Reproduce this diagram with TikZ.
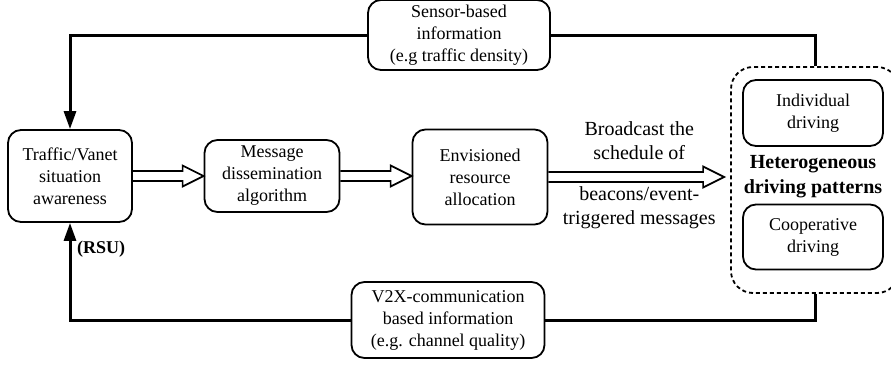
\documentclass[tikz,border=0pt]{standalone}
\usepackage{fontspec}
\setmainfont{Liberation Serif}
\usetikzlibrary{arrows.meta, positioning, calc}

\tikzset{
  box/.style={draw, line width=1.8pt, rounded corners=13pt, align=center, inner sep=0pt,
    font=\fontsize{18}{22}\selectfont},
  link/.style={line width=3pt},
  note/.style={align=center, inner sep=0pt, font=\fontsize{20}{24.5}\selectfont}
}

% hollow double-line arrow between two points on one level
\newcommand{\fatarrow}[2]{%
  \draw[line width=1.7pt, line join=miter] let \p1=(#1), \p2=(#2) in
    (\x1,\y1+5pt) -- (\x2-21pt,\y1+5pt) -- (\x2-21pt,\y1+10.5pt) -- (\x2,\y1)
    -- (\x2-21pt,\y1-10.5pt) -- (\x2-21pt,\y1-5pt) -- (\x1,\y1-5pt);}

\begin{document}
\begin{tikzpicture}[x=1pt,y=-1pt]
\useasboundingbox (0,0) rectangle (891,364);

% Processing chain
\node[box, minimum width=124pt, minimum height=92pt] (traffic) at (70,176) {Traffic/Vanet\\situation\\awareness};
\node[box, minimum width=135pt, minimum height=72pt] (message) at (272,176) {Message\\dissemination\\algorithm};
\node[box, minimum width=135pt, minimum height=95pt] (envisioned) at (480,177) {Envisioned\\resource\\allocation};

% Feedback sources
\node[box, minimum width=182pt, minimum height=70pt] (sensor) at (459,35) {Sensor-based\\information\\(e.g traffic density)};
\node[box, minimum width=193pt, minimum height=76pt] (v2x) at (448,320) {V2X-communication\\based information\\(e.g. channel quality)};

% Driving patterns
\node[draw, dash pattern=on 4pt off 3pt, line width=1.8pt, rounded corners=22pt,
  minimum width=168pt, minimum height=226pt] (patterns) at (815,180) {};
\node[box, minimum width=140pt, minimum height=66pt] (individual) at (813,113) {Individual\\driving};
\node[box, minimum width=140pt, minimum height=65pt] (cooperative) at (813,237) {Cooperative\\driving};
\node[note, font=\bfseries\fontsize{20}{25}\selectfont] (hetero) at (813,177) {Heterogeneous\\driving patterns};

% Forward arrows
\fatarrow{traffic.east}{message.west}
\fatarrow{message.east}{envisioned.west}
\fatarrow{envisioned.east}{$(patterns.west)+(-6,0)$}
\coordinate (bcmid) at ($(envisioned.east)!0.5!(patterns.west)$);
\node[note] (bctop) at ($(bcmid)+(0,-38)$) {Broadcast the\\schedule of};
\node[note] (bcbot) at ($(bcmid)+(0,29)$) {beacons/event-\\triggered messages};

% Feedback loops
\draw[link, -{Triangle[length=18pt, width=12pt]}] (sensor.west) -| (traffic.north);
\draw[link] (sensor.east) -| (patterns.north);
\draw[link, -{Triangle[length=18pt, width=12pt]}] (v2x.west) -| (traffic.south);
\draw[link] (v2x.east) -| (patterns.south);
\node[font=\bfseries\fontsize{18}{22}\selectfont, inner sep=0pt, anchor=west] (rsu)
  at ($(traffic.south)+(7,26)$) {(RSU)};
\end{tikzpicture}
\end{document}
